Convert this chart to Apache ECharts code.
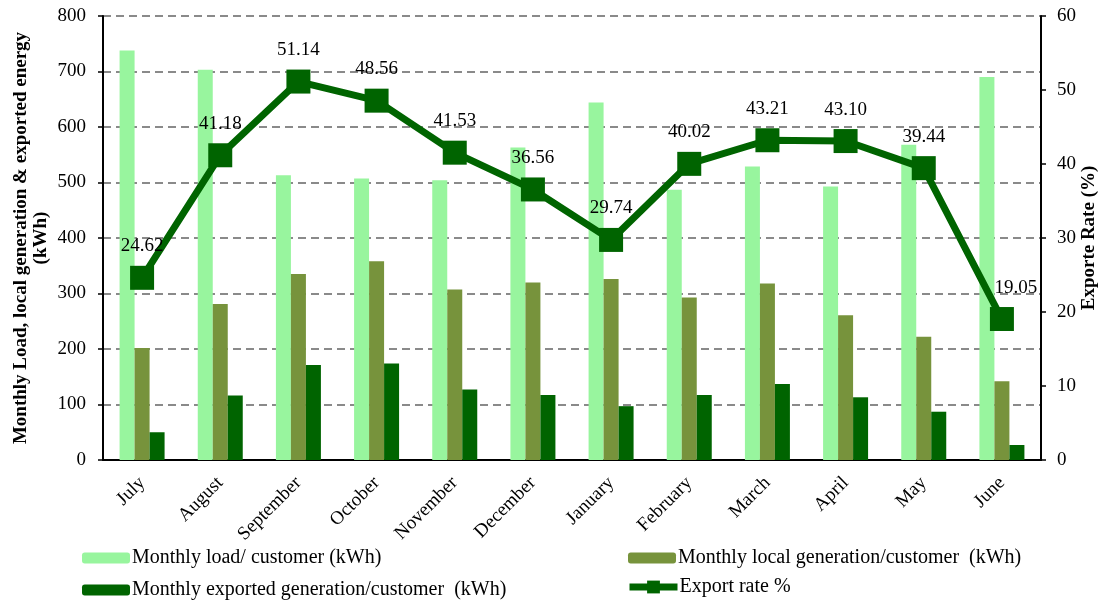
<!DOCTYPE html>
<html><head><meta charset="utf-8">
<script src="https://cdn.jsdelivr.net/npm/echarts@6/dist/echarts.min.js"></script>
<style>html,body{margin:0;padding:0;background:#fff}#c{width:1102px;height:604px}</style>
</head><body><div id="c"></div>
<script>
const months = ['July','August','September','October','November','December','January','February','March','April','May','June'];
const loadKWh = [738, 703, 513, 507, 504, 563, 644, 487, 529, 493, 568, 690];
const localGen = [202, 281, 335, 358, 307, 320, 326, 293, 318, 261, 222, 142];
const exported = [50, 116, 171, 174, 127, 117, 97, 117, 137, 113, 87, 27];
const exportRate = [24.62, 41.18, 51.14, 48.56, 41.53, 36.56, 29.74, 40.02, 43.21, 43.10, 39.44, 19.05];
const leftTicks = {min:0, max:800, interval:100};
const rightTicks = {min:0, max:60, interval:10};

const FONT = '"Liberation Serif", "Times New Roman", serif';
const names = ['Monthly load/ customer (kWh)','Monthly local generation/customer  (kWh)','Monthly exported generation/customer  (kWh)','Export rate %'];

const chart = echarts.init(document.getElementById('c'), null, {renderer:'canvas'});
const legendBase = {itemWidth:48, itemHeight:11, itemGap:0, textStyle:{fontFamily:FONT, fontSize:20, color:'#000', padding:[0,0,0,-3]}, padding:0};
chart.setOption({
  animation:false,
  textStyle:{fontFamily:FONT},
  grid:{left:103, right:61, top:16, bottom:144, containLabel:false, outerBoundsMode:'none'},
  legend:[
    Object.assign({}, legendBase, {left:82, top:548, data:[names[0]]}),
    Object.assign({}, legendBase, {left:628, top:548, data:[names[1]]}),
    Object.assign({}, legendBase, {left:82, top:580, data:[names[2]]}),
    Object.assign({}, legendBase, {left:626, top:577, itemHeight:16,
      data:[{name:names[3], lineStyle:{width:7, color:'#006400'}, itemStyle:{color:'#006400'}}]})
  ],
  xAxis:{type:'category', data:months,
    axisLine:{lineStyle:{color:'#000', width:2}}, axisTick:{show:false},
    axisLabel:{rotate:45, fontSize:19, color:'#000', fontFamily:FONT, margin:20, interval:0}},
  yAxis:[
    {type:'value', min:leftTicks.min, max:leftTicks.max, interval:leftTicks.interval,
     name:'Monthly Load, local generation & exported energy\n(kWh)', nameLocation:'middle', nameGap:72, nameMoveOverlap:false,
     nameTextStyle:{fontSize:19, fontWeight:'bold', color:'#000', fontFamily:FONT, lineHeight:20, verticalAlign:'middle'},
     axisLine:{show:true, lineStyle:{color:'#000', width:2}},
     axisTick:{show:true, inside:false, length:5, lineStyle:{color:'#000', width:1.5}},
     axisLabel:{fontSize:19, color:'#000', fontFamily:FONT, margin:17},
     splitLine:{show:true, lineStyle:{color:'#8a8a8a', width:2, type:[8,5]}}},
    {type:'value', min:rightTicks.min, max:rightTicks.max, interval:rightTicks.interval,
     name:'Exporte Rate (%)', nameLocation:'middle', nameGap:48, nameMoveOverlap:false,
     nameTextStyle:{fontSize:19, fontWeight:'bold', color:'#000', fontFamily:FONT, verticalAlign:'middle'},
     axisLine:{show:true, lineStyle:{color:'#000', width:2}},
     axisTick:{show:true, length:5, lineStyle:{color:'#000', width:1.5}},
     axisLabel:{fontSize:19, color:'#000', fontFamily:FONT, margin:16},
     splitLine:{show:false}}
  ],
  series:[
    {name:names[0], type:'bar', data:loadKWh, barWidth:15, barGap:'0%', itemStyle:{color:'#98F59E'}},
    {name:names[1], type:'bar', data:localGen, barWidth:15, barGap:'0%', itemStyle:{color:'#77933C'}},
    {name:names[2], type:'bar', data:exported, barWidth:15, barGap:'0%', itemStyle:{color:'#006400'}},
    {name:names[3], type:'line', yAxisIndex:1,
     data:exportRate.map((v,i)=> i===exportRate.length-1 ? {value:v, label:{offset:[14,0]}} : v),
     symbol:'rect', symbolSize:24, lineStyle:{color:'#006400', width:7}, itemStyle:{color:'#006400'},
     label:{show:true, position:'top', distance:10, fontSize:19, color:'#000', fontFamily:FONT,
       formatter:p=>Number(p.value).toFixed(2)}, z:5}
  ]
});
</script></body></html>
